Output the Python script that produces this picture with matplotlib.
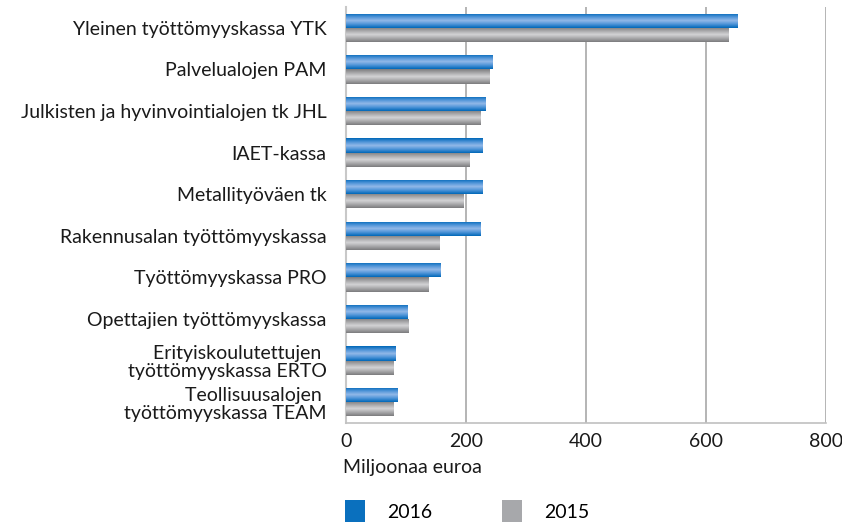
import matplotlib
matplotlib.use("Agg")
import matplotlib.pyplot as plt
import numpy as np
from matplotlib.colors import LinearSegmentedColormap
from matplotlib.patches import Patch

categories = [
    "Yleinen työttömyyskassa YTK",
    "Palvelualojen PAM",
    "Julkisten ja hyvinvointialojen tk JHL",
    "IAET-kassa",
    "Metallityöväen tk",
    "Rakennusalan työttömyyskassa",
    "Työttömyyskassa PRO",
    "Opettajien työttömyyskassa",
    "Erityiskoulutettujen \ntyöttömyyskassa ERTO",
    "Teollisuusalojen \ntyöttömyyskassa TEAM",
]
values_2016 = [652, 245, 232, 227, 227, 225, 158, 103, 83, 86]
values_2015 = [637, 240, 225, 206, 196, 156, 138, 105, 80, 80]
xticks = [0, 200, 400, 600, 800]
series_labels = ["2016", "2015"]

plt.rcParams['font.family'] = ['Lato', 'DejaVu Sans']

W, H = 842, 524
fig = plt.figure(figsize=(W / 100, H / 100), dpi=100)
ax = fig.add_axes([346 / W, (H - 423) / H, (826 - 346) / W, (423 - 7) / H])

y = np.arange(len(categories))
bh = 0.34
bars16 = ax.barh(y - bh / 2, values_2016, height=bh, color="#0a70be", zorder=3)
bars15 = ax.barh(y + bh / 2, values_2015, height=bh, color="#a0a0a2", zorder=3)

cm_blue = LinearSegmentedColormap.from_list("b", ["#0068b8", "#4d93d8", "#93b9e8", "#4d93d8", "#0068b8"])
cm_grey = LinearSegmentedColormap.from_list("g", ["#7c7c7e", "#a8a8aa", "#d4d4d6", "#a8a8aa", "#7c7c7e"])
grad = np.linspace(0, 1, 64).reshape(-1, 1)
for bars, cm in ((bars16, cm_blue), (bars15, cm_grey)):
    for b in bars:
        x0, yb, w, h = b.get_x(), b.get_y(), b.get_width(), b.get_height()
        im = ax.imshow(grad, cmap=cm, aspect="auto", extent=(x0, x0 + w, yb + h, yb),
                       origin="upper", zorder=4, interpolation="bilinear")
        im.set_clip_path(b)

ax.set_xlim(0, 800)
ax.set_ylim(len(categories) - 0.5, -0.5)
ax.set_xticks(xticks)
ax.set_xticklabels([str(t) for t in xticks], fontsize=14, color="#1a1a1a")
ax.set_yticks(y)
ax.set_yticklabels(categories, fontsize=14, color="#1a1a1a", linespacing=1.1)
ax.tick_params(axis="both", length=0)
ax.tick_params(axis="y", pad=14)
ax.tick_params(axis="x", pad=7)
ax.xaxis.grid(True, color="#b4b4b4", lw=1.4, zorder=0)
ax.set_axisbelow(True)
for s in ["top", "right"]:
    ax.spines[s].set_visible(False)
ax.spines["left"].set_color("#c8c8c8")
ax.spines["left"].set_linewidth(1.5)
ax.spines["bottom"].set_color("#c0c0c0")
ax.spines["bottom"].set_linewidth(1.2)

fig.text(343 / W, 1 - 467 / H, "Miljoonaa euroa", fontsize=14, color="#1a1a1a",
         ha="left", va="center")

handles = [Patch(facecolor="#0a70be", edgecolor="none"), Patch(facecolor="#a7a8ab", edgecolor="none")]
leg = fig.legend(handles, series_labels, loc="center left", bbox_to_anchor=(345 / W, 1 - 511 / H),
                 ncol=2, frameon=False, fontsize=14, handlelength=1.05, handleheight=1.3,
                 handletextpad=1.1, columnspacing=3.6, borderpad=0, borderaxespad=0)

fig.savefig("out.png", dpi=100)
